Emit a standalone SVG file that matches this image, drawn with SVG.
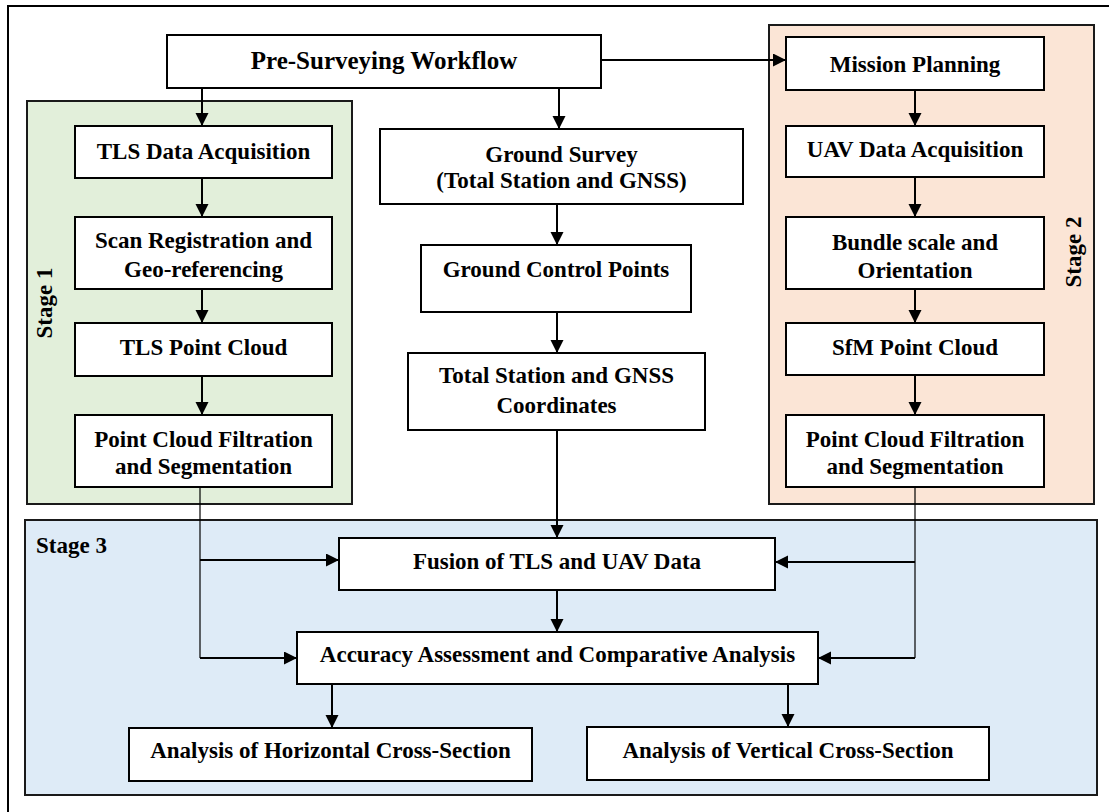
<svg xmlns="http://www.w3.org/2000/svg" width="1109" height="812" viewBox="0 0 1109 812">
<style>
  text { font-family: "Liberation Serif", "Times New Roman", serif; font-weight: bold; font-size: 23px; fill: #000; }
  .t { text-anchor: middle; }
  .node { fill: #fff; stroke: #000; stroke-width: 2; }
  .stage { stroke: #1a1a1a; stroke-width: 2; }
  .c { fill: none; stroke: #000; stroke-width: 2; }
  .thin { fill: none; stroke: #000; stroke-width: 1.2; }
</style>
<defs>
  <marker id="ah" markerWidth="14" markerHeight="14" refX="13" refY="6.5" orient="auto" markerUnits="userSpaceOnUse">
    <path d="M0,0 L13,6.5 L0,13 z" fill="#000"/>
  </marker>
</defs>
<rect x="0" y="0" width="1109" height="812" fill="#fff"/>
<rect x="8" y="6" width="1120" height="830" fill="none" stroke="#000" stroke-width="2"/>

<g id="stage1">
  <rect class="stage" x="27" y="101" width="325" height="403" fill="#e2efda"/>
  <text class="t" transform="translate(52,303) rotate(-90)">Stage 1</text>
</g>
<g id="stage2">
  <rect class="stage" x="769" y="25" width="325" height="479" fill="#fbe5d6"/>
  <text class="t" transform="translate(1081,252) rotate(-90)">Stage 2</text>
</g>
<g id="stage3">
  <rect class="stage" x="25" y="520" width="1072" height="275" fill="#deebf7"/>
  <text x="36" y="553">Stage 3</text>
</g>

<g id="connectors">
  <path class="c" d="M202,88 V126" marker-end="url(#ah)"/>
  <path class="c" d="M559,88 V129" marker-end="url(#ah)"/>
  <path class="c" d="M601,60 H786" marker-end="url(#ah)"/>
  <path class="c" d="M202,178 V217" marker-end="url(#ah)"/>
  <path class="c" d="M202,289 V323" marker-end="url(#ah)"/>
  <path class="c" d="M202,376 V415" marker-end="url(#ah)"/>
  <path class="c" d="M557,204 V245" marker-end="url(#ah)"/>
  <path class="c" d="M557,312 V353" marker-end="url(#ah)"/>
  <path class="c" d="M557,430 V538" marker-end="url(#ah)"/>
  <path class="c" d="M915,90 V126" marker-end="url(#ah)"/>
  <path class="c" d="M915,177 V217" marker-end="url(#ah)"/>
  <path class="c" d="M915,289 V323" marker-end="url(#ah)"/>
  <path class="c" d="M915,375 V415" marker-end="url(#ah)"/>
  <path class="thin" d="M200,487 V658"/>
  <path class="c" d="M200,560 H339" marker-end="url(#ah)"/>
  <path class="c" d="M200,658 H297" marker-end="url(#ah)"/>
  <path class="thin" d="M915,487 V658"/>
  <path class="c" d="M915,562 H775" marker-end="url(#ah)"/>
  <path class="c" d="M915,658 H818" marker-end="url(#ah)"/>
  <path class="c" d="M557,590 V632" marker-end="url(#ah)"/>
  <path class="c" d="M332,684 V728" marker-end="url(#ah)"/>
  <path class="c" d="M788,684 V727" marker-end="url(#ah)"/>
</g>

<g id="pre-surveying">
  <rect class="node" x="167" y="35" width="434" height="53"/>
  <text class="t" x="384" y="69" style="font-size:25px">Pre-Surveying Workflow</text>
</g>
<g id="tls-acq">
  <rect class="node" x="75" y="126" width="257" height="52"/>
  <text class="t" x="203.5" y="159">TLS Data Acquisition</text>
</g>
<g id="scan-reg">
  <rect class="node" x="75" y="217" width="257" height="72"/>
  <text class="t" x="203.5" y="248">Scan Registration and</text>
  <text class="t" x="203.5" y="277">Geo-referencing</text>
</g>
<g id="tls-pc">
  <rect class="node" x="75" y="323" width="257" height="53"/>
  <text class="t" x="203.5" y="355">TLS Point Cloud</text>
</g>
<g id="tls-filt">
  <rect class="node" x="75" y="415" width="257" height="72"/>
  <text class="t" x="203.5" y="447">Point Cloud Filtration</text>
  <text class="t" x="203.5" y="474">and Segmentation</text>
</g>
<g id="ground-survey">
  <rect class="node" x="380" y="129" width="363" height="75"/>
  <text class="t" x="561.5" y="162">Ground Survey</text>
  <text class="t" x="561.5" y="188">(Total Station and GNSS)</text>
</g>
<g id="gcp">
  <rect class="node" x="421" y="245" width="270" height="67"/>
  <text class="t" x="556" y="277">Ground Control Points</text>
</g>
<g id="ts-coords">
  <rect class="node" x="408" y="353" width="297" height="77"/>
  <text class="t" x="556.5" y="383">Total Station and GNSS</text>
  <text class="t" x="556.5" y="413">Coordinates</text>
</g>
<g id="mission">
  <rect class="node" x="786" y="37" width="258" height="53"/>
  <text class="t" x="915" y="72">Mission Planning</text>
</g>
<g id="uav-acq">
  <rect class="node" x="786" y="126" width="258" height="51"/>
  <text class="t" x="915" y="157">UAV Data Acquisition</text>
</g>
<g id="bundle">
  <rect class="node" x="786" y="217" width="258" height="72"/>
  <text class="t" x="915" y="250">Bundle scale and</text>
  <text class="t" x="915" y="278">Orientation</text>
</g>
<g id="sfm-pc">
  <rect class="node" x="786" y="323" width="258" height="52"/>
  <text class="t" x="915" y="355">SfM Point Cloud</text>
</g>
<g id="uav-filt">
  <rect class="node" x="786" y="415" width="258" height="72"/>
  <text class="t" x="915" y="447">Point Cloud Filtration</text>
  <text class="t" x="915" y="474">and Segmentation</text>
</g>
<g id="fusion">
  <rect class="node" x="339" y="538" width="436" height="52"/>
  <text class="t" x="557" y="569">Fusion of TLS and UAV Data</text>
</g>
<g id="accuracy">
  <rect class="node" x="297" y="632" width="521" height="52"/>
  <text class="t" x="557.5" y="662">Accuracy Assessment and Comparative Analysis</text>
</g>
<g id="horizontal">
  <rect class="node" x="129" y="728" width="403" height="53"/>
  <text class="t" x="330.5" y="758">Analysis of Horizontal Cross-Section</text>
</g>
<g id="vertical">
  <rect class="node" x="587" y="727" width="402" height="53"/>
  <text class="t" x="788" y="758">Analysis of Vertical Cross-Section</text>
</g>
</svg>
